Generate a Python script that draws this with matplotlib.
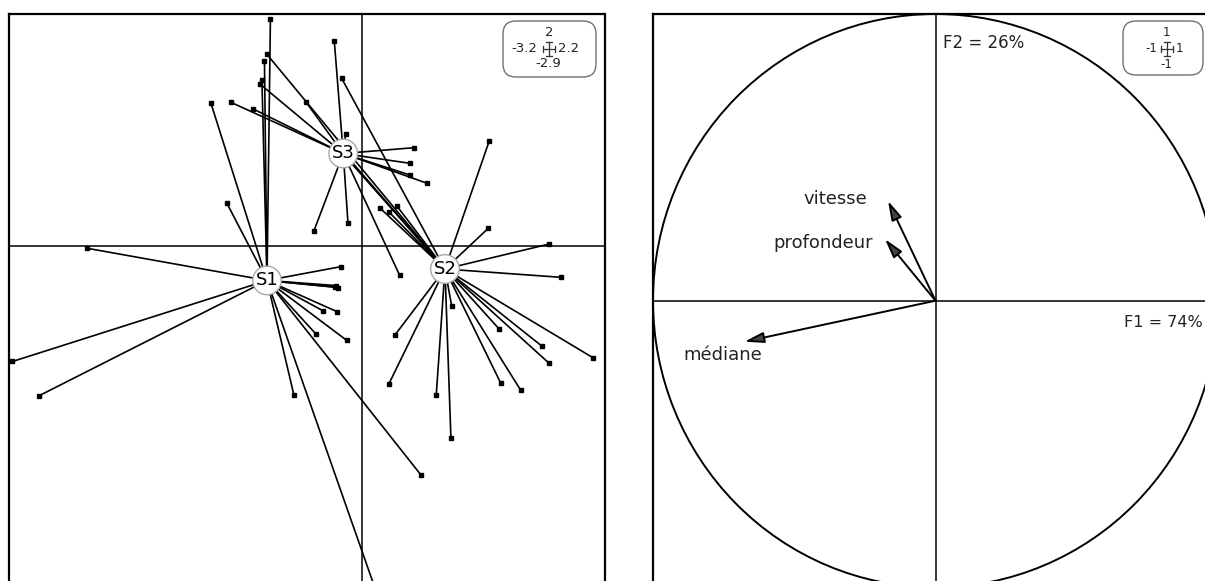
import matplotlib
matplotlib.use("Agg")
import matplotlib.pyplot as plt
from matplotlib.patches import FancyBboxPatch, Circle
from matplotlib.lines import Line2D

# ---------------- data ----------------
groups = ["S1", "S2", "S3"]
center_x = [-0.859, 0.754, -0.168]
center_y = [-0.302, -0.203, 0.795]

s1_x = [-0.828, -0.882, -0.905, -1.367, -1.225, -2.488, -3.166, -2.921, -0.615,
        -0.191, -0.216, -0.234, -0.243, -0.347, -0.222, -0.415, -0.137, 0.537, 0.129]
s1_y = [1.954, 1.597, 1.430, 1.229, 0.370, -0.024, -1.002, -1.296, -1.292,
        -0.183, -0.363, -0.346, -0.359, -0.566, -0.572, -0.765, -0.819, -1.983, -2.985]

s2_x = [1.156, 1.147, 1.699, 1.808, 0.815, 1.248, 1.631, 1.699, 2.100, 1.260, 1.439,
        0.301, 0.244, 0.675, 0.808, 0.165, 0.247, 0.316, -0.182, -0.862, -0.216, -0.107]
s2_y = [0.905, 0.149, 0.013, -0.275, -0.523, -0.724, -0.868, -1.018, -0.972, -1.190, -1.248,
        -0.773, -1.199, -1.293, -1.660, 0.324, 0.289, 0.344, 1.444, 1.654, 0.842, 0.739]

s3_x = [-1.186, -0.983, -0.923, -0.506, -0.249, -0.146, 0.473, 0.437, 0.437, 0.594,
        -0.433, -0.125, 0.342]
s3_y = [1.237, 1.179, 1.395, 1.240, 1.767, 0.963, 0.845, 0.710, 0.609, 0.537,
        0.128, 0.194, -0.255]

group_x = [s1_x, s2_x, s3_x]
group_y = [s1_y, s2_y, s3_y]

left_xlim = (-3.2, 2.2)
left_ylim = (-2.9, 2.0)

var_names = ["vitesse", "profondeur", "médiane"]
var_x = [-0.168, -0.179, -0.676]
var_y = [0.348, 0.215, -0.143]
axis_labels = ["F1 = 74%", "F2 = 26%"]

# ---------------- figure ----------------
W, H = 1205, 581
fig = plt.figure(figsize=(W / 100, H / 100), dpi=100)
plt.rcParams['font.family'] = ['DejaVu Sans']


def fig_rect(px0, py0, px1, py1):
    return [px0 / W, (H - py1) / H, (px1 - px0) / W, (py1 - py0) / H]


# ---- left panel: class scatter (stars) ----
ax1 = fig.add_axes(fig_rect(8.7, 14, 604.5, 581.2))
ax1.set_xlim(*left_xlim)
ax1.set_ylim(*left_ylim)
ax1.set_xticks([])
ax1.set_yticks([])
for s in ax1.spines.values():
    s.set_linewidth(1.6)
ax1.spines["bottom"].set_visible(False)
ax1.axhline(0, color="black", lw=1.1, zorder=1)
ax1.axvline(0, color="black", lw=1.1, zorder=1)

for g, cx, cy, xs, ys in zip(groups, center_x, center_y, group_x, group_y):
    for px, py in zip(xs, ys):
        ax1.plot([cx, px], [cy, py], color="black", lw=1.2, zorder=2,
                 solid_capstyle="round")
    ax1.plot(xs, ys, "s", ms=2.8, color="black", zorder=3)
    ax1.text(cx, cy, g, ha="center", va="center", fontsize=13, zorder=5,
             bbox=dict(boxstyle="circle,pad=0.16", fc="white", ec="#a8a8a8", lw=1.0))

# ---- right panel: correlation circle ----
ax2 = fig.add_axes(fig_rect(653, 14, 1218, 587.4))
ax2.set_xlim(-1, 1)
ax2.set_ylim(-1, 1)
ax2.set_xticks([])
ax2.set_yticks([])
for s in ax2.spines.values():
    s.set_linewidth(1.6)
ax2.axhline(0, color="black", lw=1.1, zorder=1)
ax2.axvline(0, color="black", lw=1.1, zorder=1)
ax2.add_patch(Circle((0, 0), 1, fill=False, ec="black", lw=1.4, zorder=2))

label_offsets = {"vitesse": ((-21, 2), "right"),
                 "profondeur": ((-12, -4), "right"),
                 "médiane": ((-22, -13), "center")}
for name, vx, vy in zip(var_names, var_x, var_y):
    ax2.annotate("", xy=(vx, vy), xytext=(0, 0),
                 arrowprops=dict(arrowstyle="-|>,head_length=0.9,head_width=0.25",
                                 color="black", fc="#444444",
                                 lw=1.4, mutation_scale=13, shrinkA=0, shrinkB=0),
                 zorder=3)
    off, ha = label_offsets[name]
    ax2.annotate(name, xy=(vx, vy), xytext=off, textcoords="offset pixels",
                 ha=ha, va="center", fontsize=13, color="#222222")

ax2.text(0.026, 0.898, axis_labels[1], ha="left", va="center", fontsize=12,
         color="#222222")
ax2.text(0.668, -0.077, axis_labels[0], ha="left", va="center", fontsize=11.5,
         color="#222222")


# ---- corner legend boxes (limits) ----
def inch(px, py):
    return px / 100, (H - py) / 100


def box(px0, py0, px1, py1):
    x0, y0 = inch(px0, py1)
    p = FancyBboxPatch((x0, y0), (px1 - px0) / 100, (py1 - py0) / 100,
                       boxstyle="round,pad=0,rounding_size=0.13",
                       transform=fig.dpi_scale_trans, fc="white", ec="#707070",
                       lw=1.0, zorder=5)
    fig.add_artist(p)


def line(px0, py0, px1, py1):
    x0, y0 = inch(px0, py0)
    x1, y1 = inch(px1, py1)
    fig.add_artist(Line2D([x0, x1], [y0, y1], transform=fig.dpi_scale_trans,
                          color="#333333", lw=0.9, zorder=6))


def cross(cx, cy, hw=7, hh=7, cap=3):
    line(cx - hw, cy, cx + hw, cy)
    line(cx, cy - hh, cx, cy + hh)
    line(cx - hw, cy - cap, cx - hw, cy + cap)
    line(cx + hw, cy - cap, cx + hw, cy + cap)
    line(cx - cap, cy - hh, cx + cap, cy - hh)
    line(cx - cap, cy + hh, cx + cap, cy + hh)


def ftext(px, py, s, ha="center", size=9.5):
    x, y = inch(px, py)
    fig.text(x, y, s, transform=fig.dpi_scale_trans, ha=ha, va="center",
             fontsize=size, zorder=7, color="#222222")


box(503, 21, 596, 77)
ftext(549.5, 32.5, "2")
ftext(537, 48.5, "-3.2", ha="right")
ftext(558, 48.5, "2.2", ha="left")
ftext(548.5, 63.5, "-2.9")
cross(548.5, 48.5, hw=6, hh=7, cap=3)

box(1123, 21, 1203, 75)
ftext(1166.5, 32, "1", size=8.5)
ftext(1157, 48.5, "-1", ha="right", size=8.5)
ftext(1176, 48.5, "1", ha="left", size=8.5)
ftext(1166.5, 64, "-1", size=8.5)
cross(1166.5, 48.5, hw=6, hh=7, cap=3)

fig.savefig("out.png", dpi=100)
